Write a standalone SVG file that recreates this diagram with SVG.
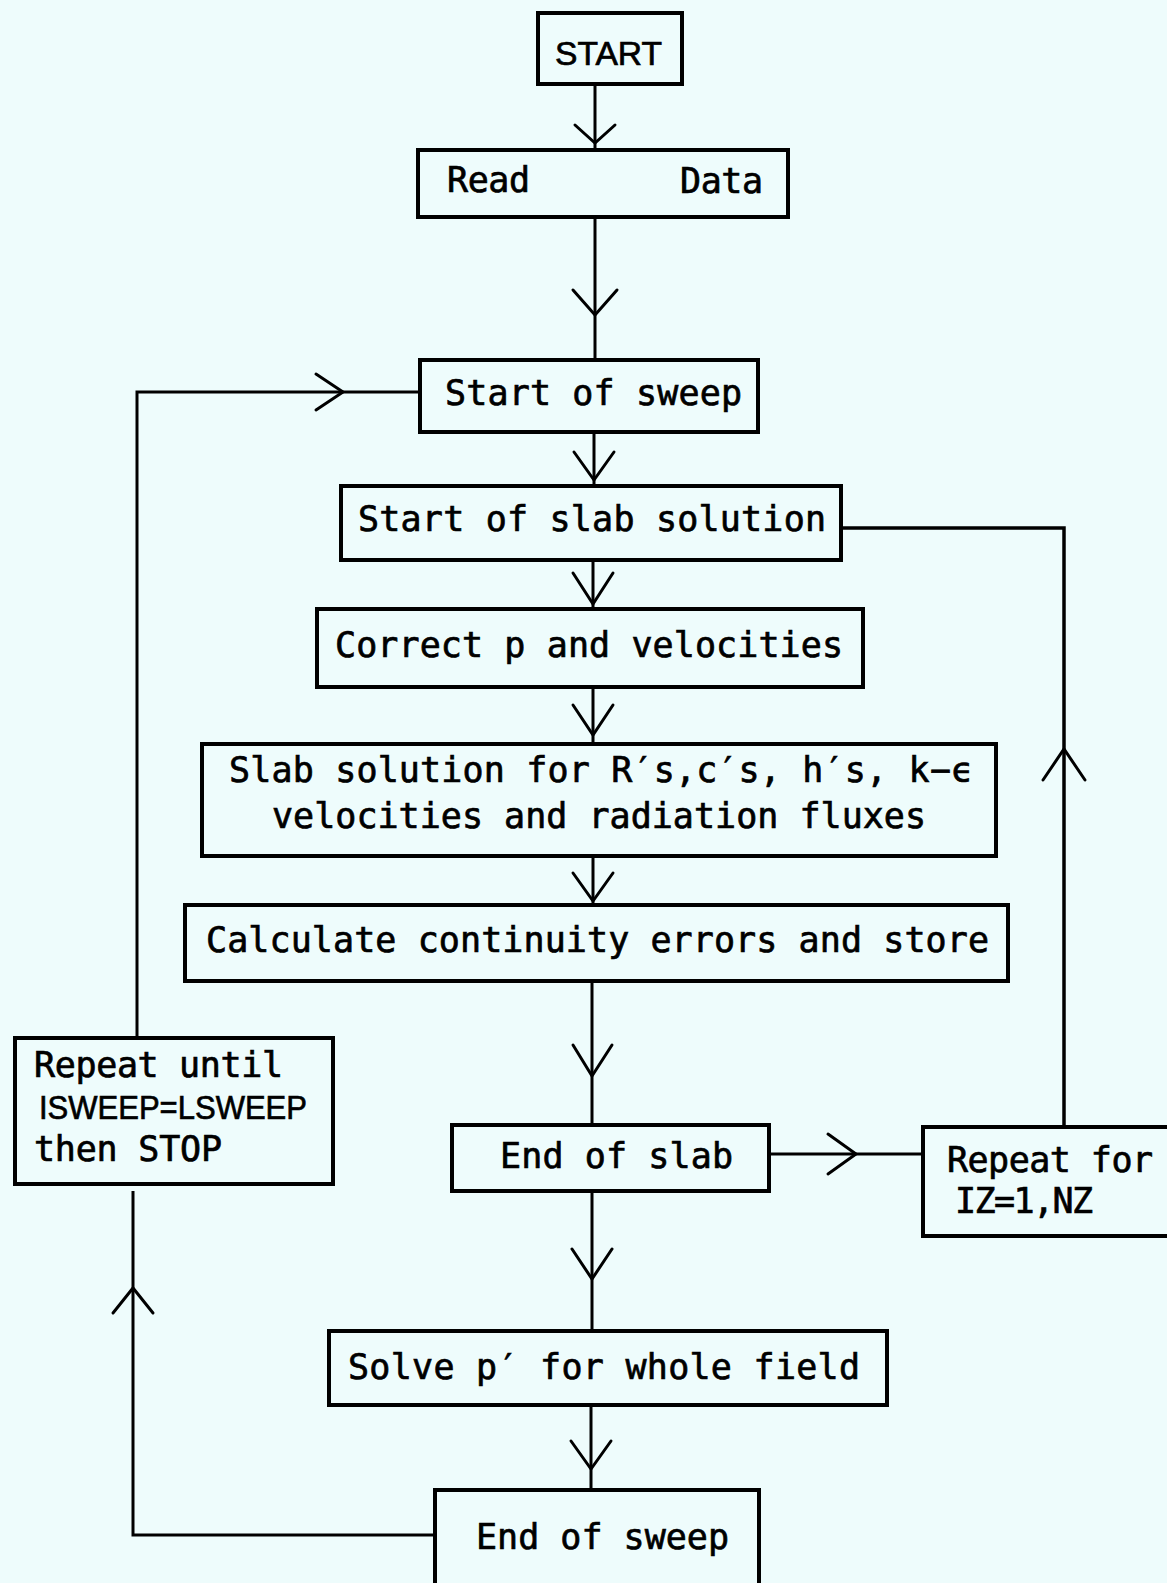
<svg xmlns="http://www.w3.org/2000/svg" width="1167" height="1583" viewBox="0 0 1167 1583">
<style>
.bg{fill:#eefcfc}
.box{fill:none;stroke:#000;stroke-width:4}
.ln{fill:none;stroke:#000;stroke-width:3;stroke-linejoin:miter}
.ah{fill:none;stroke:#000;stroke-width:3;stroke-linecap:round;stroke-linejoin:miter}
.t{font-family:"DejaVu Sans Mono","Liberation Mono",monospace;font-size:35px;fill:#000;stroke:#000;stroke-width:0.7}
.p{font-family:"Liberation Sans",Arial,sans-serif;font-size:34px;fill:#000;stroke:#000;stroke-width:0.7}
</style>
<rect class="bg" x="0" y="0" width="1167" height="1583"/>
<g id="connectors">
<line class="ln" x1="595" y1="84" x2="595" y2="150"/>
<polyline class="ah" points="575,125 595,143 615,125"/>
<line class="ln" x1="595" y1="217" x2="595" y2="360"/>
<polyline class="ah" points="573,290 595,315 617,290"/>
<line class="ln" x1="594" y1="432" x2="594" y2="486"/>
<polyline class="ah" points="574,452 594,480 614,452"/>
<line class="ln" x1="593" y1="560" x2="593" y2="609"/>
<polyline class="ah" points="573,573 593,604 613,573"/>
<line class="ln" x1="593" y1="687" x2="593" y2="744"/>
<polyline class="ah" points="573,705 593,735 613,705"/>
<line class="ln" x1="593" y1="856" x2="593" y2="905"/>
<polyline class="ah" points="573,873 593,901 613,873"/>
<line class="ln" x1="592" y1="981" x2="592" y2="1125"/>
<polyline class="ah" points="573,1045 592,1076 612,1045"/>
<line class="ln" x1="592" y1="1191" x2="592" y2="1331"/>
<polyline class="ah" points="572,1249 592,1279 612,1249"/>
<line class="ln" x1="591" y1="1405" x2="591" y2="1490"/>
<polyline class="ah" points="571,1441 591,1469 611,1441"/>
<line class="ln" x1="769" y1="1154" x2="923" y2="1154"/>
<polyline class="ah" points="828,1134 856,1154 828,1174"/>
<polyline class="ln" points="1064,1127 1064,528 841,528" style="stroke-width:3.5"/>
<polyline class="ah" points="1043,780 1064,749 1085,780"/>
<polyline class="ln" points="435,1535 133,1535 133,1191"/>
<polyline class="ah" points="113,1313 133,1288 153,1313"/>
<polyline class="ln" points="137,1038 137,392 420,392"/>
<polyline class="ah" points="316,374 343,392 316,410"/>
</g>
<g id="start"><rect class="box" x="538" y="13" width="144" height="71"/><text class="p" x="555" y="65" textLength="107" lengthAdjust="spacingAndGlyphs">START</text></g>
<g id="read-data"><rect class="box" x="418" y="150" width="370" height="67"/><text class="t" x="447" y="192" textLength="83">Read</text><text class="t" x="680" y="193" textLength="83">Data</text></g>
<g id="start-sweep"><rect class="box" x="420" y="360" width="338" height="72"/><text class="t" x="445" y="405" textLength="297">Start of sweep</text></g>
<g id="start-slab"><rect class="box" x="341" y="486" width="500" height="74"/><text class="t" x="358" y="531" textLength="468">Start of slab solution</text></g>
<g id="correct"><rect class="box" x="317" y="609" width="546" height="78"/><text class="t" x="335" y="657" textLength="508">Correct p and velocities</text></g>
<g id="slab-solution"><rect class="box" x="202" y="744" width="794" height="112"/><text class="t" x="229" y="782" textLength="743">Slab solution for R′s,c′s, h′s, k−ϵ</text><text class="t" x="272" y="828" textLength="654">velocities and radiation fluxes</text></g>
<g id="calculate"><rect class="box" x="185" y="905" width="823" height="76"/><text class="t" x="206" y="952" textLength="783">Calculate continuity errors and store</text></g>
<g id="repeat-until"><rect class="box" x="15" y="1038" width="318" height="146"/><text class="t" x="34" y="1077" textLength="249">Repeat until</text><text class="p" x="39" y="1119" textLength="268" lengthAdjust="spacingAndGlyphs">ISWEEP=LSWEEP</text><text class="t" x="34" y="1161" textLength="188">then STOP</text></g>
<g id="end-slab"><rect class="box" x="452" y="1125" width="317" height="66"/><text class="t" x="500" y="1168" textLength="233">End of slab</text></g>
<g id="repeat-for"><rect class="box" x="923" y="1127" width="260" height="109"/><text class="t" x="947" y="1172" textLength="206">Repeat for</text><text class="t" x="955" y="1213" textLength="138">IZ=1,NZ</text></g>
<g id="solve"><rect class="box" x="329" y="1331" width="558" height="74"/><text class="t" x="348" y="1379" textLength="512">Solve p′ for whole field</text></g>
<g id="end-sweep"><rect class="box" x="435" y="1490" width="324" height="120"/><text class="t" x="476" y="1549" textLength="253">End of sweep</text></g>
</svg>
